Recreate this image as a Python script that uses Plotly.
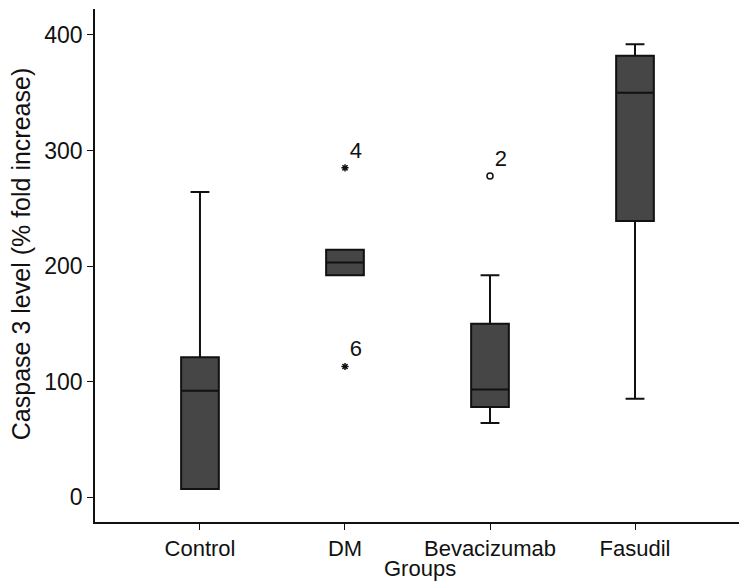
import plotly.graph_objects as go

# group stats
groups = ["Control", "DM", "Bevacizumab", "Fasudil"]
lower = [7, 192, 64, 85]
q1 = [7, 192, 78, 239]
median = [92, 203, 93, 350]
q3 = [121, 214, 150, 382]
upper = [264, 214, 192, 392]

# outliers (case numbers as labels)
ext_x = ["DM", "DM"]
ext_y = [285, 113]
ext_lab = ["4", "6"]
out_x = ["Bevacizumab"]
out_y = [278]
out_lab = ["2"]

fnt = dict(family="Liberation Sans, Arial, sans-serif", size=22, color="#111111")

fig = go.Figure()
fig.add_trace(
    go.Box(
        x=groups,
        q1=q1,
        median=median,
        q3=q3,
        lowerfence=lower,
        upperfence=upper,
        fillcolor="#464646",
        line=dict(color="#111111", width=2),
        width=0.26,
        whiskerwidth=0.5,
        boxpoints=False,
        showlegend=False,
        hoverinfo="skip",
    )
)
# extremes as asterisks
fig.add_trace(
    go.Scatter(
        x=ext_x,
        y=ext_y,
        mode="markers+text",
        text=ext_lab,
        textposition="top right",
        textfont=fnt,
        marker=dict(symbol="asterisk", size=6, line=dict(color="#111111", width=1.5)),
        showlegend=False,
    )
)
# outliers as open circles
fig.add_trace(
    go.Scatter(
        x=out_x,
        y=out_y,
        mode="markers+text",
        text=out_lab,
        textposition="top right",
        textfont=fnt,
        marker=dict(symbol="circle-open", size=6, color="#111111", line=dict(width=1.5)),
        showlegend=False,
    )
)

# page body has an 8px margin, so the figure is 8px smaller each way
fig.update_layout(
    width=739,
    height=577,
    margin=dict(l=87, r=6, t=1, b=63),
    plot_bgcolor="white",
    paper_bgcolor="white",
    font=fnt,
    annotations=[
        dict(text="Groups", xref="paper", yref="paper", x=0.503, y=-0.09,
             xanchor="center", yanchor="middle", showarrow=False, font=fnt),
        dict(text="Caspase 3 level (% fold increase)", xref="paper", yref="paper",
             x=-0.1146, y=0.522, textangle=-90, xanchor="center", yanchor="middle",
             showarrow=False, font=dict(fnt, size=25)),
    ],
)
fig.update_xaxes(
    type="category",
    categoryorder="array",
    categoryarray=groups,
    range=[-0.724, 3.731],
    showline=True,
    linecolor="#111111",
    linewidth=1.5,
    ticks="outside",
    ticklen=6,
    tickcolor="#111111",
    showgrid=False,
    zeroline=False,
    automargin=False,
)
fig.update_yaxes(
    range=[-21.6, 422.5],
    tickvals=[0, 100, 200, 300, 400],
    tickfont=dict(fnt, size=23),
    showline=True,
    linecolor="#111111",
    linewidth=1.5,
    ticks="outside",
    ticklen=6,
    tickcolor="#111111",
    showgrid=False,
    zeroline=False,
    automargin=False,
)

fig.write_html("out.html")
